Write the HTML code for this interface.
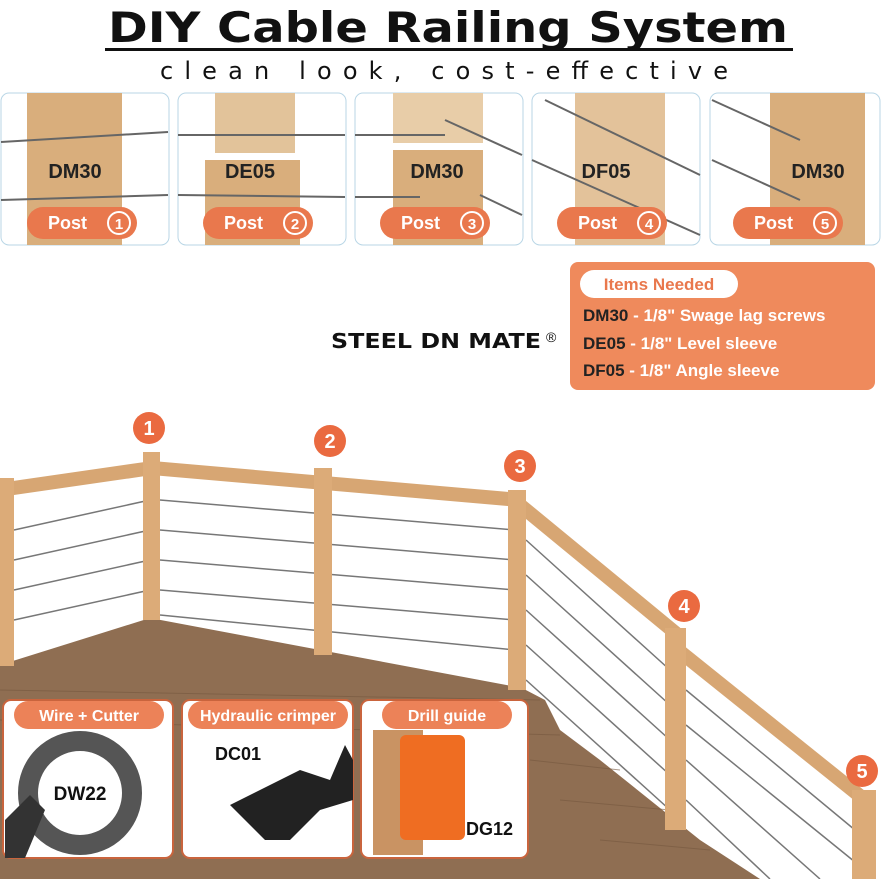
<!DOCTYPE html>
<html><head><meta charset="utf-8"><style>
body{margin:0;width:881px;height:879px;overflow:hidden;background:#fff;font-family:"Liberation Sans",sans-serif}
</style></head><body>
<svg width="881" height="879" viewBox="0 0 881 879" xmlns="http://www.w3.org/2000/svg" font-family="Liberation Sans, sans-serif">
<text x="108" y="42" font-family="DejaVu Sans, sans-serif" font-size="42" font-weight="bold" fill="#111" textLength="680" lengthAdjust="spacingAndGlyphs">DIY Cable Railing System</text>
<rect x="105" y="48" width="688" height="3" fill="#111"/>
<text x="160" y="79" font-family="DejaVu Sans, sans-serif" font-size="24" fill="#111" textLength="568" lengthAdjust="spacing">clean look, cost-effective</text>
<g>
<rect x="1" y="93" width="168" height="152" rx="8" fill="#fff" stroke="#b9d6e6"/>
<rect x="178" y="93" width="168" height="152" rx="8" fill="#fff" stroke="#b9d6e6"/>
<rect x="355" y="93" width="168" height="152" rx="8" fill="#fff" stroke="#b9d6e6"/>
<rect x="532" y="93" width="168" height="152" rx="8" fill="#fff" stroke="#b9d6e6"/>
<rect x="710" y="93" width="170" height="152" rx="8" fill="#fff" stroke="#b9d6e6"/>
<rect x="27" y="93" width="95" height="152" fill="#d9ae7c"/>
<rect x="205" y="160" width="95" height="85" fill="#d9ae7c"/><rect x="215" y="93" width="80" height="60" fill="#e2c39a"/>
<rect x="393" y="93" width="90" height="50" fill="#e8cda8"/><rect x="393" y="150" width="90" height="95" fill="#d9ae7c"/>
<rect x="575" y="93" width="90" height="152" fill="#e3c29a"/>
<rect x="770" y="93" width="95" height="152" fill="#d9ae7c"/>
<g stroke="#666" stroke-width="2">
<line x1="1" y1="142" x2="168" y2="132"/><line x1="1" y1="200" x2="168" y2="195"/>
<line x1="178" y1="135" x2="345" y2="135"/><line x1="178" y1="195" x2="345" y2="197"/>
<line x1="355" y1="135" x2="445" y2="135"/><line x1="445" y1="120" x2="522" y2="155"/><line x1="355" y1="197" x2="420" y2="197"/><line x1="480" y1="195" x2="522" y2="215"/>
<line x1="545" y1="100" x2="700" y2="175"/><line x1="532" y1="160" x2="700" y2="235"/>
<line x1="712" y1="100" x2="800" y2="140"/><line x1="712" y1="160" x2="800" y2="200"/>
</g>
<g font-size="20" font-weight="bold" fill="#222" text-anchor="middle">
<text x="75" y="178">DM30</text><text x="250" y="178">DE05</text><text x="437" y="178">DM30</text><text x="606" y="178">DF05</text><text x="818" y="178">DM30</text>
</g>
<g fill="#e9784d">
<rect x="27" y="207" width="110" height="32" rx="16"/><rect x="203" y="207" width="110" height="32" rx="16"/><rect x="380" y="207" width="110" height="32" rx="16"/><rect x="557" y="207" width="110" height="32" rx="16"/><rect x="733" y="207" width="110" height="32" rx="16"/>
</g>
<g font-size="18" font-weight="bold" fill="#fff">
<text x="48" y="229">Post</text><text x="224" y="229">Post</text><text x="401" y="229">Post</text><text x="578" y="229">Post</text><text x="754" y="229">Post</text>
</g>
<g fill="none" stroke="#fff" stroke-width="2"><circle cx="119" cy="223" r="11"/><circle cx="295" cy="223" r="11"/><circle cx="472" cy="223" r="11"/><circle cx="649" cy="223" r="11"/><circle cx="825" cy="223" r="11"/></g>
<g font-size="15" font-weight="bold" fill="#fff" text-anchor="middle">
<text x="119" y="229">1</text><text x="295" y="229">2</text><text x="472" y="229">3</text><text x="649" y="229">4</text><text x="825" y="229">5</text></g>
</g>
<text x="331" y="348" font-family="DejaVu Sans, sans-serif" font-size="20" font-weight="bold" fill="#111" textLength="210" lengthAdjust="spacingAndGlyphs">STEEL DN MATE</text>
<text x="546" y="342" font-size="14" fill="#111">®</text>
<rect x="570" y="262" width="305" height="128" rx="8" fill="#ef8a5c"/>
<rect x="580" y="270" width="158" height="28" rx="14" fill="#fff"/>
<text x="659" y="290" text-anchor="middle" font-size="17" fill="#e9784d" font-weight="bold">Items Needed</text>
<g font-size="17" fill="#fff" font-weight="bold">
<text x="583" y="321"><tspan fill="#222">DM30</tspan> - 1/8" Swage lag screws</text>
<text x="583" y="349"><tspan fill="#222">DE05</tspan> - 1/8" Level sleeve</text>
<text x="583" y="376"><tspan fill="#222">DF05</tspan> - 1/8" Angle sleeve</text>
</g>
<polygon points="0,665 150,618 522,688 545,700 560,730 600,760 650,800 700,840 760,879 0,879" fill="#8f6e52"/>
<g stroke="#76583f" stroke-width="1" opacity=".6">
<line x1="0" y1="690" x2="540" y2="700"/><line x1="0" y1="720" x2="560" y2="735"/><line x1="530" y1="760" x2="620" y2="770"/><line x1="560" y1="800" x2="670" y2="810"/><line x1="600" y1="840" x2="710" y2="850"/>
</g>
<g stroke="#777" stroke-width="1.5">
<line x1="14" y1="530" x2="150" y2="500"/><line x1="14" y1="560" x2="150" y2="530"/><line x1="14" y1="590" x2="150" y2="560"/><line x1="14" y1="620" x2="150" y2="590"/>
<line x1="160" y1="500" x2="515" y2="530"/><line x1="160" y1="530" x2="515" y2="560"/><line x1="160" y1="560" x2="515" y2="590"/><line x1="160" y1="590" x2="515" y2="620"/><line x1="160" y1="615" x2="515" y2="650"/>
<line x1="526" y1="540" x2="670" y2="670"/><line x1="526" y1="575" x2="670" y2="705"/><line x1="526" y1="610" x2="670" y2="740"/><line x1="526" y1="645" x2="670" y2="775"/><line x1="526" y1="680" x2="670" y2="810"/>
<line x1="686" y1="690" x2="855" y2="830"/><line x1="686" y1="725" x2="855" y2="862"/><line x1="686" y1="760" x2="820" y2="879"/><line x1="686" y1="800" x2="770" y2="879"/>
</g>
<g stroke="#d7a673" stroke-width="14" stroke-linecap="butt">
<line x1="0" y1="490" x2="152" y2="468"/><line x1="152" y1="468" x2="520" y2="500"/><line x1="520" y1="505" x2="678" y2="635"/><line x1="678" y1="650" x2="865" y2="800"/>
</g>
<g fill="#dcab78">
<rect x="0" y="478" width="14" height="188"/><rect x="143" y="452" width="17" height="168"/><rect x="314" y="468" width="18" height="187"/><rect x="508" y="490" width="18" height="200"/><rect x="665" y="628" width="21" height="202"/><rect x="852" y="790" width="24" height="89"/>
</g>
<g fill="#ea6a40"><circle cx="149" cy="428" r="16"/><circle cx="330" cy="441" r="16"/><circle cx="520" cy="466" r="16"/><circle cx="684" cy="606" r="16"/><circle cx="862" cy="771" r="16"/></g>
<g font-size="20" font-weight="bold" fill="#fff" text-anchor="middle"><text x="149" y="435">1</text><text x="330" y="448">2</text><text x="520" y="473">3</text><text x="684" y="613">4</text><text x="862" y="778">5</text></g>
<g fill="#fff" stroke="#c9643d" stroke-width="2">
<rect x="3" y="700" width="170" height="158" rx="8"/><rect x="182" y="700" width="171" height="158" rx="8"/><rect x="361" y="700" width="167" height="158" rx="8"/>
</g>
<g fill="#ec8258"><rect x="14" y="701" width="150" height="28" rx="14"/><rect x="188" y="701" width="160" height="28" rx="14"/><rect x="382" y="701" width="130" height="28" rx="14"/></g>
<g font-size="16" font-weight="bold" fill="#fff" text-anchor="middle"><text x="89" y="721">Wire + Cutter</text><text x="268" y="721">Hydraulic crimper</text><text x="447" y="721">Drill guide</text></g>
<circle cx="80" cy="793" r="52" fill="none" stroke="#555" stroke-width="20"/>
<text x="80" y="800" text-anchor="middle" font-size="19" font-weight="bold" fill="#111">DW22</text>
<path d="M5,820 L30,795 L45,810 L25,858 L5,858Z" fill="#333"/>
<text x="215" y="760" font-size="18" font-weight="bold" fill="#111">DC01</text>
<path d="M230,805 L300,770 L330,780 L345,745 L353,760 L353,800 L320,810 L290,840 L265,840Z" fill="#222"/>
<rect x="373" y="730" width="50" height="125" fill="#c99363"/>
<rect x="400" y="735" width="65" height="105" rx="6" fill="#ef6d22"/>
<text x="466" y="835" font-size="18" font-weight="bold" fill="#111">DG12</text>
</svg>
</body></html>
